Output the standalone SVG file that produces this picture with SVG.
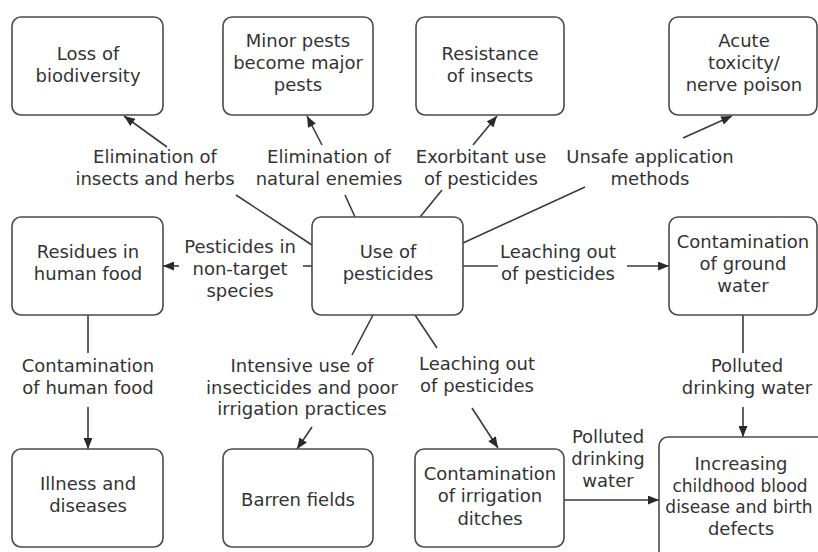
<svg xmlns="http://www.w3.org/2000/svg" width="818" height="552" viewBox="0 0 818 552">
<defs>
<style>
.box{fill:#fff;stroke:#4a4a4a;stroke-width:1.6}
text{font-family:"DejaVu Sans",sans-serif;font-size:18px;fill:#333;text-anchor:middle}
.c line{stroke:#3a3a3a;stroke-width:1.6;fill:none}
</style>
<marker id="ah" markerUnits="userSpaceOnUse" markerWidth="11" markerHeight="9" refX="11" refY="4.5" orient="auto">
<path d="M0,0 L11,4.5 L0,9 z" fill="#2a2a2a"/>
</marker>
</defs>
<rect width="818" height="552" fill="#fff"/>

<g class="c" id="connectors">
<line x1="167" y1="147" x2="124" y2="116" marker-end="url(#ah)"/>
<line x1="236" y1="195" x2="312" y2="245"/>
<line x1="322" y1="145" x2="307" y2="116" marker-end="url(#ah)"/>
<line x1="345" y1="195" x2="355" y2="217"/>
<line x1="473" y1="145" x2="497" y2="116" marker-end="url(#ah)"/>
<line x1="442" y1="190" x2="420" y2="217"/>
<line x1="683" y1="138" x2="732" y2="116" marker-end="url(#ah)"/>
<line x1="585" y1="187" x2="463" y2="243"/>
<line x1="312" y1="266" x2="303" y2="266"/>
<line x1="179" y1="266" x2="163" y2="266" marker-end="url(#ah)"/>
<line x1="463" y1="266" x2="498" y2="266"/>
<line x1="627" y1="266" x2="669" y2="266" marker-end="url(#ah)"/>
<line x1="88" y1="315" x2="88" y2="353"/>
<line x1="88" y1="407" x2="88" y2="449" marker-end="url(#ah)"/>
<line x1="373" y1="315" x2="352" y2="355"/>
<line x1="312" y1="427" x2="297" y2="449" marker-end="url(#ah)"/>
<line x1="415" y1="315" x2="437" y2="348"/>
<line x1="472" y1="408" x2="498" y2="448" marker-end="url(#ah)"/>
<line x1="743" y1="315" x2="743" y2="353"/>
<line x1="743" y1="407" x2="743" y2="437" marker-end="url(#ah)"/>
<line x1="564" y1="500" x2="659" y2="500" marker-end="url(#ah)"/>
</g>

<g id="labels">
<text x="155" y="163">Elimination of</text>
<text x="155" y="185">insects and herbs</text>
<text x="329" y="163">Elimination of</text>
<text x="329" y="185">natural enemies</text>
<text x="481" y="163">Exorbitant use</text>
<text x="481" y="185">of pesticides</text>
<text x="650" y="163">Unsafe application</text>
<text x="650" y="185">methods</text>
<text x="240" y="253">Pesticides in</text>
<text x="240" y="275">non-target</text>
<text x="240" y="297">species</text>
<text x="558" y="258">Leaching out</text>
<text x="558" y="280">of pesticides</text>
<text x="88" y="372">Contamination</text>
<text x="88" y="394">of human food</text>
<text x="302" y="372">Intensive use of</text>
<text x="302" y="394">insecticides and poor</text>
<text x="302" y="415">irrigation practices</text>
<text x="477" y="370">Leaching out</text>
<text x="477" y="392">of pesticides</text>
<text x="747" y="372">Polluted</text>
<text x="747" y="394">drinking water</text>
<text x="608" y="443">Polluted</text>
<text x="608" y="465">drinking</text>
<text x="608" y="487">water</text>
</g>

<g id="loss-biodiversity">
<rect class="box" x="12" y="17" width="151" height="98" rx="9"/>
<text x="88" y="60">Loss of</text>
<text x="88" y="82">biodiversity</text>
</g>
<g id="minor-pests">
<rect class="box" x="223" y="17" width="150" height="98" rx="9"/>
<text x="298" y="47">Minor pests</text>
<text x="298" y="69">become major</text>
<text x="298" y="91">pests</text>
</g>
<g id="resistance">
<rect class="box" x="416" y="17" width="148" height="98" rx="9"/>
<text x="490" y="60">Resistance</text>
<text x="490" y="82">of insects</text>
</g>
<g id="acute-toxicity">
<rect class="box" x="669" y="17" width="148" height="98" rx="9"/>
<text x="744" y="47">Acute</text>
<text x="744" y="69">toxicity/</text>
<text x="744" y="91">nerve poison</text>
</g>
<g id="residues">
<rect class="box" x="12" y="217" width="151" height="98" rx="9"/>
<text x="88" y="258">Residues in</text>
<text x="88" y="280">human food</text>
</g>
<g id="use-of-pesticides">
<rect class="box" x="312" y="217" width="151" height="98" rx="9"/>
<text x="388" y="258">Use of</text>
<text x="388" y="280">pesticides</text>
</g>
<g id="ground-water">
<rect class="box" x="669" y="217" width="148" height="98" rx="9"/>
<text x="743" y="248">Contamination</text>
<text x="743" y="270">of ground</text>
<text x="743" y="292">water</text>
</g>
<g id="illness">
<rect class="box" x="12" y="449" width="151" height="98" rx="9"/>
<text x="88" y="490">Illness and</text>
<text x="88" y="512">diseases</text>
</g>
<g id="barren-fields">
<rect class="box" x="223" y="449" width="150" height="98" rx="9"/>
<text x="298" y="506">Barren fields</text>
</g>
<g id="irrigation-ditches">
<rect class="box" x="415" y="449" width="149" height="98" rx="9"/>
<text x="490" y="480">Contamination</text>
<text x="490" y="502">of irrigation</text>
<text x="490" y="525">ditches</text>
</g>
<g id="childhood-disease">
<rect class="box" x="659" y="437" width="172" height="125" rx="9"/>
<text x="741" y="470">Increasing</text>
<text x="740" y="492" style="font-size:17px">childhood blood</text>
<text x="739" y="513" style="font-size:17px">disease and birth</text>
<text x="741" y="535">defects</text>
</g>
</svg>
